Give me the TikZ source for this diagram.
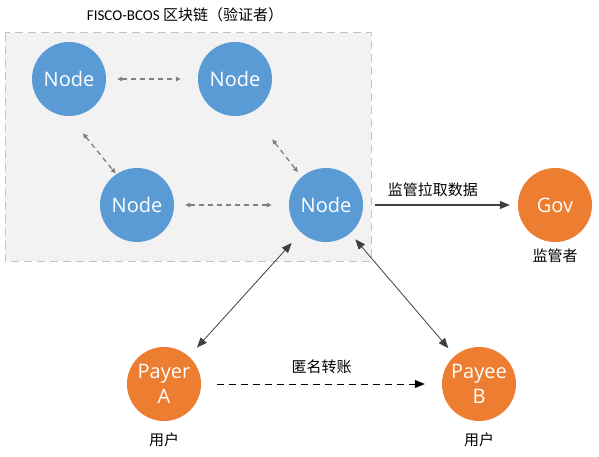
\documentclass[tikz,border=0pt]{standalone}
\usepackage{fontspec}
\usepackage{tikz}
\usetikzlibrary{arrows.meta}
\setmainfont{Open Sans}
\newfontfamily\cjk{Noto Sans CJK SC}
\newfontfamily\lat{Carlito}
\definecolor{fbfbfb}{rgb}{0.357,0.608,0.835}
\definecolor{edfdfq}{rgb}{0.929,0.490,0.192}
\definecolor{f2f2f2}{rgb}{0.949,0.949,0.949}
\definecolor{bfbfbf}{rgb}{0.765,0.765,0.765}
\definecolor{sqsqsq}{rgb}{0.50,0.50,0.50}
\definecolor{dqdqdq}{rgb}{0.25,0.25,0.25}
\tikzstyle{every node}=[font=\fontsize{15}{18}\selectfont\cjk]
\tikzstyle{chain}=[circle,fill=fbfbfb,text=white,minimum size=74pt,inner sep=0pt,font=\fontsize{20}{23}\selectfont]
\tikzstyle{user}=[circle,fill=edfdfq,text=white,minimum size=74pt,inner sep=0pt,align=center,font=\fontsize{20}{25}\selectfont]
\tikzstyle{gossip}=[<->,>={Triangle[length=5pt,width=4.5pt]},color=sqsqsq,line width=1.3pt,dash pattern=on 5pt off 4pt]

\begin{document}
\begin{tikzpicture}[line cap=butt,line join=round,>={Triangle[length=10pt,width=8pt]},x=1pt,y=1pt]
                    \useasboundingbox (0,0) rectangle (599,-457);
                    \draw [fill=f2f2f2,draw=bfbfbf,line width=1pt,dash pattern=on 8pt off 5pt] (5,-33) rectangle (371,-261);
                    \node (title) at (185,-15) {\lat FISCO-BCOS \cjk 区块链（验证者）};
                    \node [chain] (n1) at (69,-79) {Node};
                    \node [chain] (n2) at (235,-79) {Node};
                    \node [chain] (n3) at (137,-205) {Node};
                    \node [chain] (n4) at (326,-205) {Node};
                    \node [chain,fill=edfdfq] (gov) at (555,-205) {Gov};
                    \node [user] (payer) at (164,-384) {Payer\\A};
                    \node [user] (payee) at (479,-384) {Payee\\B};
                    \draw [gossip,shorten <=11pt,shorten >=17pt] (n1.east) -- (n2.west);
                    \draw [gossip,shorten <=11pt,shorten >=17pt] (n3.east) -- (n4.west);
                    \draw [gossip,shorten <=22pt,shorten >=1pt] (n1.south) -- (n3.124);
                    \draw [gossip,shorten <=34pt,shorten >=6pt] (n2.-64) -- (n4.131);
                    \draw [->,line width=1.1pt,color=dqdqdq,shorten <=12pt,shorten >=8pt] (n4.east) -- (gov.west) node [pos=0.45,above=4pt,text=black]{监管拉取数据};
                    \draw [<->,line width=0.8pt,color=dqdqdq,shorten <=14pt,shorten >=12pt] (n4) -- (payer);
                    \draw [<->,line width=0.8pt,color=dqdqdq,shorten <=8pt,shorten >=10pt] (n4) -- (payee);
                    \draw [->,line width=1pt,color=black,dash pattern=on 7pt off 5pt,shorten <=16pt,shorten >=17pt] (payer.east) -- (payee.west) node [midway,above=6pt]{匿名转账};
                    \node (govrole) at (555,-256) {监管者};
                    \node (payerrole) at (164,-440) {用户};
                    \node (payeerole) at (479,-440) {用户};
                    \end{tikzpicture}
\end{document}
